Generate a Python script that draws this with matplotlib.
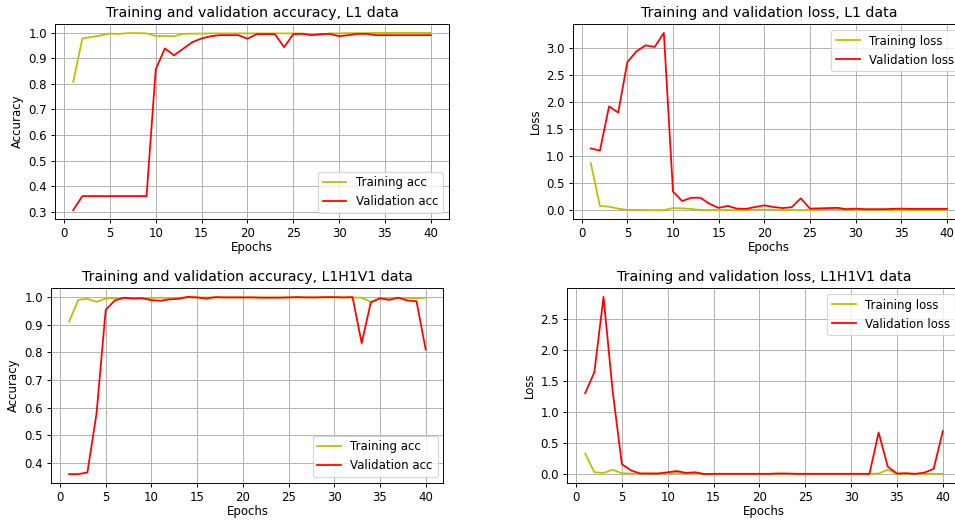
import numpy as np
import matplotlib
matplotlib.use('Agg')
import matplotlib.pyplot as plt
from matplotlib.ticker import MultipleLocator

# datos
epochs = np.arange(1, 41)

l1_acc = [0.808, 0.978, 0.984, 0.990, 0.997, 0.996, 0.999, 0.999, 0.998, 0.988,
          0.988, 0.987, 0.996, 0.997, 0.997, 0.998, 0.998, 0.998, 0.998, 0.998,
          0.998, 0.998, 0.998, 0.998, 0.998, 0.998, 0.993, 0.993, 0.998, 0.998,
          0.999, 0.999, 0.999, 1.000, 1.000, 1.000, 1.000, 1.000, 1.000, 1.000]
l1_val_acc = [0.306, 0.361, 0.361, 0.361, 0.361, 0.361, 0.361, 0.361, 0.361, 0.857,
              0.939, 0.912, 0.938, 0.964, 0.978, 0.987, 0.991, 0.991, 0.991, 0.977,
              0.995, 0.995, 0.995, 0.944, 0.995, 0.996, 0.991, 0.995, 0.996, 0.987,
              0.991, 0.996, 0.996, 0.991, 0.991, 0.991, 0.991, 0.991, 0.991, 0.991]
l1_loss = [0.87, 0.08, 0.065, 0.03, 0.005, 0.008, 0.003, 0.002, 0.003, 0.04,
           0.035, 0.025, 0.005, 0.004, 0.004, 0.003, 0.003, 0.004, 0.01, 0.01,
           0.008, 0.004, 0.003, 0.004, 0.004, 0.01, 0.02, 0.02, 0.008, 0.01,
           0.005, 0.004, 0.004, 0.004, 0.004, 0.003, 0.003, 0.003, 0.003, 0.003]
l1_val_loss = [1.14, 1.10, 1.915, 1.80, 2.73, 2.93, 3.04, 3.01, 3.27, 0.345,
               0.17, 0.23, 0.23, 0.12, 0.043, 0.08, 0.03, 0.025, 0.06, 0.09,
               0.06, 0.04, 0.055, 0.22, 0.03, 0.035, 0.04, 0.045, 0.02, 0.03,
               0.02, 0.02, 0.02, 0.025, 0.03, 0.025, 0.025, 0.025, 0.025, 0.025]

hv_acc = [0.911, 0.989, 0.993, 0.982, 0.994, 0.995, 0.995, 0.995, 0.995, 0.996,
          0.997, 0.996, 0.997, 0.998, 0.998, 0.998, 0.998, 0.998, 0.998, 0.998,
          0.998, 0.998, 0.998, 0.998, 0.998, 0.998, 0.998, 0.998, 0.998, 0.998,
          0.998, 0.998, 0.997, 0.982, 0.993, 0.996, 0.996, 0.996, 0.995, 0.997]
hv_val_acc = [0.36, 0.36, 0.366, 0.58, 0.953, 0.987, 0.997, 0.994, 0.995, 0.988,
              0.986, 0.991, 0.993, 1.0, 0.998, 0.994, 0.999, 0.998, 0.998, 0.998,
              0.998, 0.997, 0.997, 0.997, 0.998, 0.999, 0.998, 0.998, 0.999, 0.999,
              0.998, 0.999, 0.833, 0.98, 0.995, 0.989, 0.997, 0.987, 0.984, 0.81]
hv_loss = [0.33, 0.03, 0.02, 0.07, 0.015, 0.01, 0.01, 0.01, 0.01, 0.01,
           0.02, 0.01, 0.01, 0.005, 0.005, 0.005, 0.005, 0.005, 0.005, 0.005,
           0.005, 0.005, 0.005, 0.005, 0.005, 0.005, 0.005, 0.005, 0.005, 0.005,
           0.005, 0.005, 0.01, 0.07, 0.005, 0.005, 0.005, 0.005, 0.005, 0.005]
hv_val_loss = [1.30, 1.64, 2.85, 1.33, 0.16, 0.06, 0.01, 0.01, 0.01, 0.03,
               0.05, 0.02, 0.03, 0.0, 0.005, 0.005, 0.005, 0.005, 0.005, 0.005,
               0.005, 0.01, 0.01, 0.005, 0.005, 0.005, 0.005, 0.005, 0.005, 0.005,
               0.005, 0.005, 0.67, 0.12, 0.01, 0.015, 0.005, 0.025, 0.085, 0.69]

# dpi 85 para que textos y lineas salgan algo mas pequenos, como en la referencia
DPI = 85
fig = plt.figure(figsize=(956 / DPI, 520 / DPI), dpi=DPI)

# posiciones en pixeles: izquierda, arriba, ancho, alto
def ejes(x0, y_top, w, h):
    return fig.add_axes([x0 / 956, (520 - y_top - h) / 520, w / 956, h / 520])

ax1 = ejes(55.3, 24, 393.4, 195)
ax2 = ejes(573, 24, 391.7, 195)
ax3 = ejes(51.3, 288, 392.2, 195)
ax4 = ejes(567.3, 288, 393.4, 195)

def panel(ax, train, val, titulo, ylabel, tr_lab, va_lab, loc, paso):
    ax.plot(epochs, train, 'y', label=tr_lab)
    ax.plot(epochs, val, 'r', label=va_lab)
    ax.set_title(titulo)
    ax.set_xlabel('Epochs', labelpad=1)
    ax.set_ylabel(ylabel)
    ax.yaxis.set_major_locator(MultipleLocator(paso))
    ax.grid(True)
    ax.legend(loc=loc)

panel(ax1, l1_acc, l1_val_acc, 'Training and validation accuracy, L1 data',
      'Accuracy', 'Training acc', 'Validation acc', 'lower right', 0.1)
panel(ax2, l1_loss, l1_val_loss, 'Training and validation loss, L1 data',
      'Loss', 'Training loss', 'Validation loss', 'upper right', 0.5)
panel(ax3, hv_acc, hv_val_acc, 'Training and validation accuracy, L1H1V1 data',
      'Accuracy', 'Training acc', 'Validation acc', 'lower right', 0.1)
panel(ax4, hv_loss, hv_val_loss, 'Training and validation loss, L1H1V1 data',
      'Loss', 'Training loss', 'Validation loss', 'upper right', 0.5)

plt.savefig('out.png', dpi=DPI)
